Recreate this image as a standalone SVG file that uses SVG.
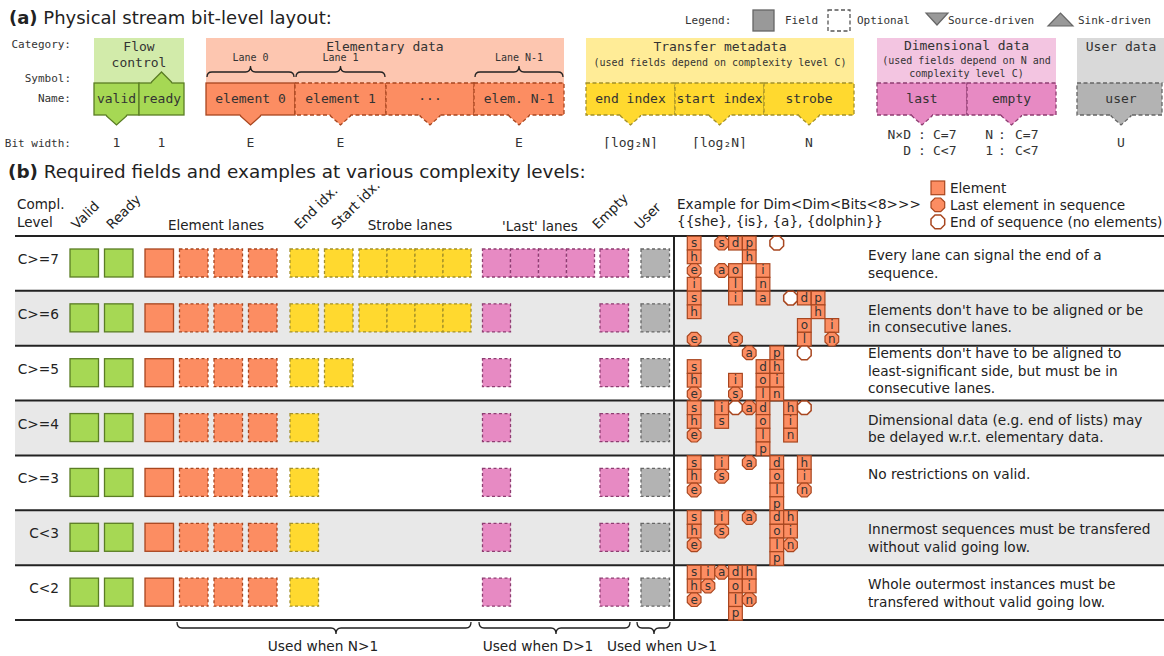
<svg xmlns="http://www.w3.org/2000/svg" xmlns:xlink="http://www.w3.org/1999/xlink" width="1164" height="656" viewBox="0 0 1164 656">
<style>
.m{font-family:"DejaVu Sans Mono","Liberation Mono",monospace;fill:#333}
.s{font-family:"DejaVu Sans","Liberation Sans",sans-serif;fill:#222}
.c{text-anchor:middle}
.e{text-anchor:end}
.g{fill:#a6d854;stroke:#5a7d24;stroke-width:1.3}
.o{fill:#fc8d62;stroke:#a8461f;stroke-width:1.3}
.y{fill:#ffd92f;stroke:#a3902a;stroke-width:1.3}
.p{fill:#e78ac3;stroke:#8e3d72;stroke-width:1.3}
.k{fill:#b3b3b3;stroke:#666;stroke-width:1.3}
.d{stroke-dasharray:4 2.5}
.dd{stroke-dasharray:3 2.5}
.nf{fill:none}
.ns{stroke:none}
.br{fill:none;stroke:#222;stroke-width:1.3}
.hl{stroke:#222;stroke-width:2}
.E{fill:#fc8d62;stroke:#a8461f;stroke-width:1.2}
.W{fill:#fff;stroke:#a8461f;stroke-width:1.5}
.lt{font-family:"DejaVu Sans","Liberation Sans",sans-serif;font-size:12px;fill:#333;text-anchor:middle}
</style>
<defs>
<rect id="sq" width="13.7" height="13.7"/>
<polygon id="oc" points="4,0 9.7,0 13.7,4 13.7,9.7 9.7,13.7 4,13.7 0,9.7 0,4"/>
<rect id="bs" width="28.5" height="28"/>
<rect id="bn" width="28" height="28"/>
</defs>
<rect width="1164" height="656" fill="#fff"/>

<!-- ===== Part (a) ===== -->
<g id="title-a"><text class="s" x="9" y="24" font-size="18"><tspan font-weight="bold">(a)</tspan> Physical stream bit-level layout:</text></g>

<g id="row-labels" class="m e" font-size="11">
<text class="m e" x="71" y="48">Category:</text>
<text class="m e" x="71" y="82">Symbol:</text>
<text class="m e" x="71" y="102">Name:</text>
<text class="m e" x="71" y="147">Bit width:</text>
</g>

<g id="legend" font-size="11">
<text class="m" x="685" y="24">Legend:</text>
<rect x="753" y="10" width="21" height="21" fill="#999" stroke="#666" stroke-width="1.3"/>
<text class="m" x="785" y="24">Field</text>
<rect x="828" y="10" width="22" height="21" fill="none" stroke="#555" stroke-width="1.3" stroke-dasharray="4 2.5"/>
<text class="m" x="857" y="24">Optional</text>
<polygon points="926,13 948,13 937,25" fill="#999" stroke="#666" stroke-width="1.2"/>
<text class="m" x="948" y="24">Source-driven</text>
<polygon points="1048,26 1073,26 1060.5,13" fill="#999" stroke="#666" stroke-width="1.2"/>
<text class="m" x="1078" y="24">Sink-driven</text>
</g>

<g id="flow-control">
<rect x="94" y="38" width="90" height="45" fill="#d2ebaa"/>
<text class="m c" x="139" y="51" font-size="13">Flow</text>
<text class="m c" x="139" y="67" font-size="13">control</text>
<rect class="g" x="94" y="83" width="45" height="32"/>
<rect class="g" x="139" y="83" width="45" height="32"/>
<text class="m c" x="116.5" y="103" font-size="13">valid</text>
<text class="m c" x="161.5" y="103" font-size="13">ready</text>
<polygon class="g ns" points="106.5,113.5 126.5,113.5 126.5,116 116.5,125 106.5,116"/>
<polyline class="g nf" points="106.5,115 106.5,116 116.5,125 126.5,116 126.5,115"/>
<polygon class="g ns" points="151.5,84.5 171.5,84.5 171.5,82 161.5,72 151.5,82"/>
<polyline class="g nf" points="151.5,83 151.5,82 161.5,72 171.5,82 171.5,83"/>
<text class="m c" x="116.5" y="147" font-size="13">1</text>
<text class="m c" x="161.5" y="147" font-size="13">1</text>
</g>

<g id="elementary-data">
<rect x="206" y="38" width="358" height="45" fill="#fdc6b0"/>
<text class="m c" x="385" y="51" font-size="13">Elementary data</text>
<text class="m c" x="250.5" y="61" font-size="10">Lane 0</text>
<text class="m c" x="340.5" y="61" font-size="10">Lane 1</text>
<text class="m c" x="519" y="61" font-size="10">Lane N-1</text>
<path class="br" d="M207,77 Q207,72 212,72 L245.5,72 Q250.5,72 250.5,66 Q250.5,72 255.5,72 L289,72 Q294,72 294,77"/>
<path class="br" d="M296,77 Q296,72 301,72 L335.5,72 Q340.5,72 340.5,66 Q340.5,72 345.5,72 L380,72 Q385,72 385,77"/>
<path class="br" d="M475,77 Q475,72 480,72 L514,72 Q519,72 519,66 Q519,72 524,72 L558,72 Q563,72 563,77"/>
<rect class="o" x="206" y="83" width="89" height="32"/>
<rect class="o d" x="295" y="83" width="91" height="32"/>
<rect class="o d" x="386" y="83" width="88" height="32"/>
<rect class="o d" x="474" y="83" width="90" height="32"/>
<text class="m c" x="250.5" y="103" font-size="13">element 0</text>
<text class="m c" x="340.5" y="103" font-size="13">element 1</text>
<text class="m c" x="430" y="103" font-size="13">···</text>
<text class="m c" x="519" y="103" font-size="13">elem. N-1</text>
<polygon class="o ns" points="240.5,113.5 260.5,113.5 260.5,116 250.5,125 240.5,116"/>
<polyline class="o nf" points="240.5,115 240.5,116 250.5,125 260.5,116 260.5,115"/>
<polygon class="o ns" points="330.5,113.5 350.5,113.5 350.5,116 340.5,125 330.5,116"/>
<polyline class="o nf d" points="330.5,115 330.5,116 340.5,125 350.5,116 350.5,115"/>
<polygon class="o ns" points="420,113.5 440,113.5 440,116 430,125 420,116"/>
<polyline class="o nf d" points="420,115 420,116 430,125 440,116 440,115"/>
<polygon class="o ns" points="509,113.5 529,113.5 529,116 519,125 509,116"/>
<polyline class="o nf d" points="509,115 509,116 519,125 529,116 529,115"/>
<text class="m c" x="250.5" y="147" font-size="13">E</text>
<text class="m c" x="340.5" y="147" font-size="13">E</text>
<text class="m c" x="519" y="147" font-size="13">E</text>
</g>

<g id="transfer-metadata">
<rect x="586" y="38" width="268" height="45" fill="#ffec97"/>
<text class="m c" x="720" y="51" font-size="13">Transfer metadata</text>
<text class="m c" x="720" y="66" font-size="10">(used fields depend on complexity level C)</text>
<rect class="y d" x="586" y="83" width="89" height="32"/>
<rect class="y d" x="675" y="83" width="89" height="32"/>
<rect class="y d" x="764" y="83" width="90" height="32"/>
<text class="m c" x="630.5" y="103" font-size="13">end index</text>
<text class="m c" x="719.5" y="103" font-size="13">start index</text>
<text class="m c" x="809" y="103" font-size="13">strobe</text>
<polygon class="y ns" points="620.5,113.5 640.5,113.5 640.5,116 630.5,125 620.5,116"/>
<polyline class="y nf d" points="620.5,115 620.5,116 630.5,125 640.5,116 640.5,115"/>
<polygon class="y ns" points="709.5,113.5 729.5,113.5 729.5,116 719.5,125 709.5,116"/>
<polyline class="y nf d" points="709.5,115 709.5,116 719.5,125 729.5,116 729.5,115"/>
<polygon class="y ns" points="799,113.5 819,113.5 819,116 809,125 799,116"/>
<polyline class="y nf d" points="799,115 799,116 809,125 819,116 819,115"/>
<text class="m c" x="630.5" y="147" font-size="13">⌈log₂N⌉</text>
<text class="m c" x="719.5" y="147" font-size="13">⌈log₂N⌉</text>
<text class="m c" x="809" y="147" font-size="13">N</text>
</g>

<g id="dimensional-data">
<rect x="877" y="38" width="179" height="45" fill="#f3c5e1"/>
<text class="m c" x="966.5" y="50" font-size="13">Dimensional data</text>
<text class="m c" x="966.5" y="64" font-size="10">(used fields depend on N and</text>
<text class="m c" x="966.5" y="77" font-size="10">complexity level C)</text>
<rect class="p d" x="877" y="83" width="90" height="32"/>
<rect class="p d" x="967" y="83" width="89" height="32"/>
<text class="m c" x="922" y="103" font-size="13">last</text>
<text class="m c" x="1011.5" y="103" font-size="13">empty</text>
<polygon class="p ns" points="912,113.5 932,113.5 932,116 922,125 912,116"/>
<polyline class="p nf d" points="912,115 912,116 922,125 932,116 932,115"/>
<polygon class="p ns" points="1001.5,113.5 1021.5,113.5 1021.5,116 1011.5,125 1001.5,116"/>
<polyline class="p nf d" points="1001.5,115 1001.5,116 1011.5,125 1021.5,116 1021.5,115"/>
<g font-size="13">
<text class="m e" x="911" y="139">N×D</text><text class="m c" x="922" y="139">:</text><text class="m" x="933" y="139">C=7</text>
<text class="m e" x="911" y="155">D</text><text class="m c" x="922" y="155">:</text><text class="m" x="933" y="155">C&lt;7</text>
<text class="m e" x="993" y="139">N</text><text class="m c" x="1002" y="139">:</text><text class="m" x="1015" y="139">C=7</text>
<text class="m e" x="993" y="155">1</text><text class="m c" x="1002" y="155">:</text><text class="m" x="1015" y="155">C&lt;7</text>
</g>
</g>

<g id="user-data">
<rect x="1077" y="38" width="87" height="45" fill="#d9d9d9"/>
<text class="m c" x="1121" y="51" font-size="13">User data</text>
<rect class="k d" x="1077" y="83" width="85" height="32"/>
<text class="m c" x="1121" y="103" font-size="13">user</text>
<polygon class="k ns" points="1111,113.5 1131,113.5 1131,116 1121,125 1111,116"/>
<polyline class="k nf d" points="1111,115 1111,116 1121,125 1131,116 1131,115"/>
<text class="m c" x="1121" y="147" font-size="13">U</text>
</g>

<!-- ===== Part (b) ===== -->
<g id="title-b"><text class="s" x="8" y="178" font-size="18.4"><tspan font-weight="bold">(b)</tspan> Required fields and examples at various complexity levels:</text></g>

<g id="table-header" font-size="13.5">
<text class="s" x="17" y="209" font-size="13.5">Compl.</text>
<text class="s" x="17" y="227" font-size="13.5">Level</text>
<text class="s" font-size="13.5" transform="translate(77,230) rotate(-45)">Valid</text>
<text class="s" font-size="13.5" transform="translate(112,230) rotate(-45)">Ready</text>
<text class="s c" x="216" y="230" font-size="13.5">Element lanes</text>
<text class="s" font-size="13.5" transform="translate(300,230) rotate(-45)">End idx.</text>
<text class="s" font-size="13.5" transform="translate(337,230) rotate(-45)">Start idx.</text>
<text class="s c" x="410" y="230" font-size="13.5">Strobe lanes</text>
<text class="s c" x="540" y="231" font-size="13.5">'Last' lanes</text>
<text class="s" font-size="13.5" transform="translate(598,230) rotate(-45)">Empty</text>
<text class="s" font-size="13.5" transform="translate(640,230) rotate(-45)">User</text>
<text class="s" x="677" y="209" font-size="13.6">Example for Dim&lt;Dim&lt;Bits&lt;8&gt;&gt;&gt;</text>
<text class="s" x="677" y="226" font-size="13.6">{{she}, {is}, {a}, {dolphin}}</text>
<use href="#sq" class="E" x="931" y="181"/>
<text class="s" x="950" y="193" font-size="13.6">Element</text>
<use href="#oc" class="E" x="931" y="198"/>
<text class="s" x="950" y="210" font-size="13.6">Last element in sequence</text>
<use href="#oc" class="W" x="931" y="215"/>
<text class="s" x="950" y="227" font-size="13.6">End of sequence (no elements)</text>
</g>

<g id="row-backgrounds">
<rect x="15" y="290.86" width="1149" height="54.86" fill="#e8e8e8"/>
<rect x="15" y="400.57" width="1149" height="54.86" fill="#e8e8e8"/>
<rect x="15" y="510.29" width="1149" height="54.86" fill="#e8e8e8"/>
</g>

<g id="table-lines">
<line class="hl" x1="15" y1="236" x2="1164" y2="236"/>
<line class="hl" x1="15" y1="290.86" x2="1164" y2="290.86"/>
<line class="hl" x1="15" y1="345.71" x2="1164" y2="345.71"/>
<line class="hl" x1="15" y1="400.57" x2="1164" y2="400.57"/>
<line class="hl" x1="15" y1="455.43" x2="1164" y2="455.43"/>
<line class="hl" x1="15" y1="510.29" x2="1164" y2="510.29"/>
<line class="hl" x1="15" y1="565.14" x2="1164" y2="565.14"/>
<line class="hl" x1="15" y1="620" x2="1164" y2="620"/>
<line class="hl" x1="674" y1="236" x2="674" y2="620"/>
</g>

<!-- field rows -->
<g id="row-c7" transform="translate(0,236)">
<text class="s e" x="59" y="28" font-size="13.7">C&gt;=7</text>
<use href="#bs" class="g" x="70" y="13"/><use href="#bs" class="g" x="104.5" y="13"/>
<use href="#bs" class="o" x="145" y="13"/><use href="#bs" class="o dd" x="179.5" y="13"/><use href="#bs" class="o dd" x="214" y="13"/><use href="#bs" class="o dd" x="248.5" y="13"/>
<use href="#bs" class="y dd" x="290" y="13"/><use href="#bs" class="y dd" x="324.5" y="13"/>
<use href="#bn" class="y dd" x="359" y="13"/><use href="#bn" class="y dd" x="387" y="13"/><use href="#bn" class="y dd" x="415" y="13"/><use href="#bn" class="y dd" x="443" y="13"/>
<use href="#bn" class="p dd" x="482.5" y="13"/><use href="#bn" class="p dd" x="510.5" y="13"/><use href="#bn" class="p dd" x="538.5" y="13"/><use href="#bn" class="p dd" x="566.5" y="13"/>
<use href="#bs" class="p dd" x="600" y="13"/><use href="#bs" class="k dd" x="641" y="13"/>
<text class="s" x="868" y="24" font-size="13.7">Every lane can signal the end of a</text>
<text class="s" x="868" y="41.5" font-size="13.7">sequence.</text>
</g>
<g id="row-c6" transform="translate(0,290.86)">
<text class="s e" x="59" y="28" font-size="13.7">C&gt;=6</text>
<use href="#bs" class="g" x="70" y="13"/><use href="#bs" class="g" x="104.5" y="13"/>
<use href="#bs" class="o" x="145" y="13"/><use href="#bs" class="o dd" x="179.5" y="13"/><use href="#bs" class="o dd" x="214" y="13"/><use href="#bs" class="o dd" x="248.5" y="13"/>
<use href="#bs" class="y dd" x="290" y="13"/><use href="#bs" class="y dd" x="324.5" y="13"/>
<use href="#bn" class="y dd" x="359" y="13"/><use href="#bn" class="y dd" x="387" y="13"/><use href="#bn" class="y dd" x="415" y="13"/><use href="#bn" class="y dd" x="443" y="13"/>
<use href="#bn" class="p dd" x="482.5" y="13"/>
<use href="#bs" class="p dd" x="600" y="13"/><use href="#bs" class="k dd" x="641" y="13"/>
<text class="s" x="868" y="24" font-size="13.7">Elements don't have to be aligned or be</text>
<text class="s" x="868" y="41.5" font-size="13.7">in consecutive lanes.</text>
</g>
<g id="row-c5" transform="translate(0,345.71)">
<text class="s e" x="59" y="28" font-size="13.7">C&gt;=5</text>
<use href="#bs" class="g" x="70" y="13"/><use href="#bs" class="g" x="104.5" y="13"/>
<use href="#bs" class="o" x="145" y="13"/><use href="#bs" class="o dd" x="179.5" y="13"/><use href="#bs" class="o dd" x="214" y="13"/><use href="#bs" class="o dd" x="248.5" y="13"/>
<use href="#bs" class="y dd" x="290" y="13"/><use href="#bs" class="y dd" x="324.5" y="13"/>
<use href="#bn" class="p dd" x="482.5" y="13"/>
<use href="#bs" class="p dd" x="600" y="13"/><use href="#bs" class="k dd" x="641" y="13"/>
<text class="s" x="868" y="12.5" font-size="13.7">Elements don't have to be aligned to</text>
<text class="s" x="868" y="30" font-size="13.7">least-significant side, but must be in</text>
<text class="s" x="868" y="47.5" font-size="13.7">consecutive lanes.</text>
</g>
<g id="row-c4" transform="translate(0,400.57)">
<text class="s e" x="59" y="28" font-size="13.7">C&gt;=4</text>
<use href="#bs" class="g" x="70" y="13"/><use href="#bs" class="g" x="104.5" y="13"/>
<use href="#bs" class="o" x="145" y="13"/><use href="#bs" class="o dd" x="179.5" y="13"/><use href="#bs" class="o dd" x="214" y="13"/><use href="#bs" class="o dd" x="248.5" y="13"/>
<use href="#bs" class="y dd" x="290" y="13"/>
<use href="#bn" class="p dd" x="482.5" y="13"/>
<use href="#bs" class="p dd" x="600" y="13"/><use href="#bs" class="k dd" x="641" y="13"/>
<text class="s" x="868" y="24" font-size="13.7">Dimensional data (e.g. end of lists) may</text>
<text class="s" x="868" y="41.5" font-size="13.7">be delayed w.r.t. elementary data.</text>
</g>
<g id="row-c3" transform="translate(0,455.43)">
<text class="s e" x="59" y="28" font-size="13.7">C&gt;=3</text>
<use href="#bs" class="g" x="70" y="13"/><use href="#bs" class="g" x="104.5" y="13"/>
<use href="#bs" class="o" x="145" y="13"/><use href="#bs" class="o dd" x="179.5" y="13"/><use href="#bs" class="o dd" x="214" y="13"/><use href="#bs" class="o dd" x="248.5" y="13"/>
<use href="#bs" class="y dd" x="290" y="13"/>
<use href="#bn" class="p dd" x="482.5" y="13"/>
<use href="#bs" class="p dd" x="600" y="13"/><use href="#bs" class="k dd" x="641" y="13"/>
<text class="s" x="868" y="24" font-size="13.7">No restrictions on valid.</text>
</g>
<g id="row-c2" transform="translate(0,510.29)">
<text class="s e" x="59" y="28" font-size="13.7">C&lt;3</text>
<use href="#bs" class="g" x="70" y="13"/><use href="#bs" class="g" x="104.5" y="13"/>
<use href="#bs" class="o" x="145" y="13"/><use href="#bs" class="o dd" x="179.5" y="13"/><use href="#bs" class="o dd" x="214" y="13"/><use href="#bs" class="o dd" x="248.5" y="13"/>
<use href="#bs" class="y dd" x="290" y="13"/>
<use href="#bn" class="p dd" x="482.5" y="13"/>
<use href="#bs" class="p dd" x="600" y="13"/><use href="#bs" class="k dd" x="641" y="13"/>
<text class="s" x="868" y="24" font-size="13.7">Innermost sequences must be transfered</text>
<text class="s" x="868" y="41.5" font-size="13.7">without valid going low.</text>
</g>
<g id="row-c1" transform="translate(0,565.14)">
<text class="s e" x="59" y="28" font-size="13.7">C&lt;2</text>
<use href="#bs" class="g" x="70" y="13"/><use href="#bs" class="g" x="104.5" y="13"/>
<use href="#bs" class="o" x="145" y="13"/><use href="#bs" class="o dd" x="179.5" y="13"/><use href="#bs" class="o dd" x="214" y="13"/><use href="#bs" class="o dd" x="248.5" y="13"/>
<use href="#bs" class="y dd" x="290" y="13"/>
<use href="#bn" class="p dd" x="482.5" y="13"/>
<use href="#bs" class="p dd" x="600" y="13"/><use href="#bs" class="k dd" x="641" y="13"/>
<text class="s" x="868" y="24" font-size="13.7">Whole outermost instances must be</text>
<text class="s" x="868" y="41.5" font-size="13.7">transfered without valid going low.</text>
</g>

<!-- examples -->
<g id="ex-c7" transform="translate(687.3,236.3)">
<use href="#sq" class="E" x="0" y="0"/><text class="lt" x="6.85" y="10.8">s</text>
<use href="#sq" class="E" x="0" y="13.7"/><text class="lt" x="6.85" y="24.5">h</text>
<use href="#oc" class="E" x="0" y="27.4"/><text class="lt" x="6.85" y="38.2">e</text>
<use href="#sq" class="E" x="0" y="41.1"/><text class="lt" x="6.85" y="51.9">i</text>
<use href="#oc" class="E" x="27.54" y="0"/><text class="lt" x="34.4" y="10.8">s</text>
<use href="#oc" class="E" x="27.54" y="27.4"/><text class="lt" x="34.4" y="38.2">a</text>
<use href="#sq" class="E" x="41.31" y="0"/><text class="lt" x="48.2" y="10.8">d</text>
<use href="#sq" class="E" x="41.31" y="27.4"/><text class="lt" x="48.2" y="38.2">o</text>
<use href="#sq" class="E" x="41.31" y="41.1"/><text class="lt" x="48.2" y="51.9">l</text>
<use href="#sq" class="E" x="55.08" y="0"/><text class="lt" x="61.9" y="10.8">p</text>
<use href="#sq" class="E" x="55.08" y="13.7"/><text class="lt" x="61.9" y="24.5">h</text>
<use href="#sq" class="E" x="68.85" y="27.4"/><text class="lt" x="75.7" y="38.2">i</text>
<use href="#sq" class="E" x="68.85" y="41.1"/><text class="lt" x="75.7" y="51.9">n</text>
<use href="#oc" class="W" x="82.62" y="0"/>
</g>
<g id="ex-c6" transform="translate(687.3,291.2)">
<use href="#sq" class="E" x="0" y="0"/><text class="lt" x="6.85" y="10.8">s</text>
<use href="#sq" class="E" x="0" y="13.7"/><text class="lt" x="6.85" y="24.5">h</text>
<use href="#oc" class="E" x="0" y="41.1"/><text class="lt" x="6.85" y="51.9">e</text>
<use href="#sq" class="E" x="41.31" y="0"/><text class="lt" x="48.2" y="10.8">i</text>
<use href="#oc" class="E" x="41.31" y="41.1"/><text class="lt" x="48.2" y="51.9">s</text>
<use href="#sq" class="E" x="68.85" y="0"/><text class="lt" x="75.7" y="10.8">a</text>
<use href="#oc" class="W" x="96.39" y="0"/>
<use href="#sq" class="E" x="110.16" y="0"/><text class="lt" x="117" y="10.8">d</text>
<use href="#sq" class="E" x="110.16" y="27.4"/><text class="lt" x="117" y="38.2">o</text>
<use href="#sq" class="E" x="110.16" y="41.1"/><text class="lt" x="117" y="51.9">l</text>
<use href="#sq" class="E" x="123.93" y="0"/><text class="lt" x="130.8" y="10.8">p</text>
<use href="#sq" class="E" x="123.93" y="13.7"/><text class="lt" x="130.8" y="24.5">h</text>
<use href="#sq" class="E" x="137.7" y="27.4"/><text class="lt" x="144.5" y="38.2">i</text>
<use href="#oc" class="E" x="137.7" y="41.1"/><text class="lt" x="144.5" y="51.9">n</text>
</g>
<g id="ex-c5" transform="translate(687.3,346)">
<use href="#sq" class="E" x="0" y="13.7"/><text class="lt" x="6.85" y="24.5">s</text>
<use href="#sq" class="E" x="0" y="27.4"/><text class="lt" x="6.85" y="38.2">h</text>
<use href="#oc" class="E" x="0" y="41.1"/><text class="lt" x="6.85" y="51.9">e</text>
<use href="#sq" class="E" x="41.31" y="27.4"/><text class="lt" x="48.2" y="38.2">i</text>
<use href="#oc" class="E" x="41.31" y="41.1"/><text class="lt" x="48.2" y="51.9">s</text>
<use href="#oc" class="E" x="55.08" y="0"/><text class="lt" x="61.9" y="10.8">a</text>
<use href="#sq" class="E" x="68.85" y="13.7"/><text class="lt" x="75.7" y="24.5">d</text>
<use href="#sq" class="E" x="68.85" y="27.4"/><text class="lt" x="75.7" y="38.2">o</text>
<use href="#sq" class="E" x="68.85" y="41.1"/><text class="lt" x="75.7" y="51.9">l</text>
<use href="#sq" class="E" x="82.62" y="0"/><text class="lt" x="89.5" y="10.8">p</text>
<use href="#sq" class="E" x="82.62" y="13.7"/><text class="lt" x="89.5" y="24.5">h</text>
<use href="#sq" class="E" x="82.62" y="27.4"/><text class="lt" x="89.5" y="38.2">i</text>
<use href="#sq" class="E" x="82.62" y="41.1"/><text class="lt" x="89.5" y="51.9">n</text>
<use href="#oc" class="W" x="110.16" y="0"/>
</g>
<g id="ex-c4" transform="translate(687.3,400.9)">
<use href="#sq" class="E" x="0" y="0"/><text class="lt" x="6.85" y="10.8">s</text>
<use href="#sq" class="E" x="0" y="13.7"/><text class="lt" x="6.85" y="24.5">h</text>
<use href="#oc" class="E" x="0" y="27.4"/><text class="lt" x="6.85" y="38.2">e</text>
<use href="#sq" class="E" x="27.54" y="0"/><text class="lt" x="34.4" y="10.8">i</text>
<use href="#sq" class="E" x="27.54" y="13.7"/><text class="lt" x="34.4" y="24.5">s</text>
<use href="#oc" class="W" x="41.31" y="0"/>
<use href="#oc" class="E" x="55.08" y="0"/><text class="lt" x="61.9" y="10.8">a</text>
<use href="#sq" class="E" x="68.85" y="0"/><text class="lt" x="75.7" y="10.8">d</text>
<use href="#sq" class="E" x="68.85" y="13.7"/><text class="lt" x="75.7" y="24.5">o</text>
<use href="#sq" class="E" x="68.85" y="27.4"/><text class="lt" x="75.7" y="38.2">l</text>
<use href="#sq" class="E" x="68.85" y="41.1"/><text class="lt" x="75.7" y="51.9">p</text>
<use href="#sq" class="E" x="96.39" y="0"/><text class="lt" x="103.2" y="10.8">h</text>
<use href="#sq" class="E" x="96.39" y="13.7"/><text class="lt" x="103.2" y="24.5">i</text>
<use href="#sq" class="E" x="96.39" y="27.4"/><text class="lt" x="103.2" y="38.2">n</text>
<use href="#oc" class="W" x="110.16" y="0"/>
</g>
<g id="ex-c3" transform="translate(687.3,455.7)">
<use href="#sq" class="E" x="0" y="0"/><text class="lt" x="6.85" y="10.8">s</text>
<use href="#sq" class="E" x="0" y="13.7"/><text class="lt" x="6.85" y="24.5">h</text>
<use href="#oc" class="E" x="0" y="27.4"/><text class="lt" x="6.85" y="38.2">e</text>
<use href="#sq" class="E" x="27.54" y="0"/><text class="lt" x="34.4" y="10.8">i</text>
<use href="#oc" class="E" x="27.54" y="13.7"/><text class="lt" x="34.4" y="24.5">s</text>
<use href="#oc" class="E" x="55.08" y="0"/><text class="lt" x="61.9" y="10.8">a</text>
<use href="#sq" class="E" x="82.62" y="0"/><text class="lt" x="89.5" y="10.8">d</text>
<use href="#sq" class="E" x="82.62" y="13.7"/><text class="lt" x="89.5" y="24.5">o</text>
<use href="#sq" class="E" x="82.62" y="27.4"/><text class="lt" x="89.5" y="38.2">l</text>
<use href="#sq" class="E" x="82.62" y="41.1"/><text class="lt" x="89.5" y="51.9">p</text>
<use href="#sq" class="E" x="110.16" y="0"/><text class="lt" x="117" y="10.8">h</text>
<use href="#sq" class="E" x="110.16" y="13.7"/><text class="lt" x="117" y="24.5">i</text>
<use href="#oc" class="E" x="110.16" y="27.4"/><text class="lt" x="117" y="38.2">n</text>
</g>
<g id="ex-c2" transform="translate(687.3,510.6)">
<use href="#sq" class="E" x="0" y="0"/><text class="lt" x="6.85" y="10.8">s</text>
<use href="#sq" class="E" x="0" y="13.7"/><text class="lt" x="6.85" y="24.5">h</text>
<use href="#oc" class="E" x="0" y="27.4"/><text class="lt" x="6.85" y="38.2">e</text>
<use href="#sq" class="E" x="27.54" y="0"/><text class="lt" x="34.4" y="10.8">i</text>
<use href="#oc" class="E" x="27.54" y="13.7"/><text class="lt" x="34.4" y="24.5">s</text>
<use href="#oc" class="E" x="55.08" y="0"/><text class="lt" x="61.9" y="10.8">a</text>
<use href="#sq" class="E" x="82.62" y="0"/><text class="lt" x="89.5" y="10.8">d</text>
<use href="#sq" class="E" x="82.62" y="13.7"/><text class="lt" x="89.5" y="24.5">o</text>
<use href="#sq" class="E" x="82.62" y="27.4"/><text class="lt" x="89.5" y="38.2">l</text>
<use href="#sq" class="E" x="82.62" y="41.1"/><text class="lt" x="89.5" y="51.9">p</text>
<use href="#sq" class="E" x="96.39" y="0"/><text class="lt" x="103.2" y="10.8">h</text>
<use href="#sq" class="E" x="96.39" y="13.7"/><text class="lt" x="103.2" y="24.5">i</text>
<use href="#oc" class="E" x="96.39" y="27.4"/><text class="lt" x="103.2" y="38.2">n</text>
</g>
<g id="ex-c1" transform="translate(687.3,565.4)">
<use href="#sq" class="E" x="0" y="0"/><text class="lt" x="6.85" y="10.8">s</text>
<use href="#sq" class="E" x="0" y="13.7"/><text class="lt" x="6.85" y="24.5">h</text>
<use href="#oc" class="E" x="0" y="27.4"/><text class="lt" x="6.85" y="38.2">e</text>
<use href="#sq" class="E" x="13.77" y="0"/><text class="lt" x="20.6" y="10.8">i</text>
<use href="#oc" class="E" x="13.77" y="13.7"/><text class="lt" x="20.6" y="24.5">s</text>
<use href="#oc" class="E" x="27.54" y="0"/><text class="lt" x="34.4" y="10.8">a</text>
<use href="#sq" class="E" x="41.31" y="0"/><text class="lt" x="48.2" y="10.8">d</text>
<use href="#sq" class="E" x="41.31" y="13.7"/><text class="lt" x="48.2" y="24.5">o</text>
<use href="#sq" class="E" x="41.31" y="27.4"/><text class="lt" x="48.2" y="38.2">l</text>
<use href="#sq" class="E" x="41.31" y="41.1"/><text class="lt" x="48.2" y="51.9">p</text>
<use href="#sq" class="E" x="55.08" y="0"/><text class="lt" x="61.9" y="10.8">h</text>
<use href="#sq" class="E" x="55.08" y="13.7"/><text class="lt" x="61.9" y="24.5">i</text>
<use href="#oc" class="E" x="55.08" y="27.4"/><text class="lt" x="61.9" y="38.2">n</text>
</g>

<g id="braces">
<path class="br" d="M177,622 Q177,628 182,628 L331,628 Q336,628 336,634 Q336,628 341,628 L466,628 Q471,628 471,622"/>
<path class="br" d="M479,622 Q479,628 484,628 L551,628 Q556,628 556,634 Q556,628 561,628 L625,628 Q630,628 630,622"/>
<path class="br" d="M637,622 Q637,628 642,628 L649,628 Q654,628 654,634 Q654,628 659,628 L665,628 Q670,628 670,622"/>
<text class="s c" x="323" y="651" font-size="13.7">Used when N&gt;1</text>
<text class="s c" x="538" y="651" font-size="13.7">Used when D&gt;1</text>
<text class="s c" x="662" y="651" font-size="13.7">Used when U&gt;1</text>
</g>
</svg>
